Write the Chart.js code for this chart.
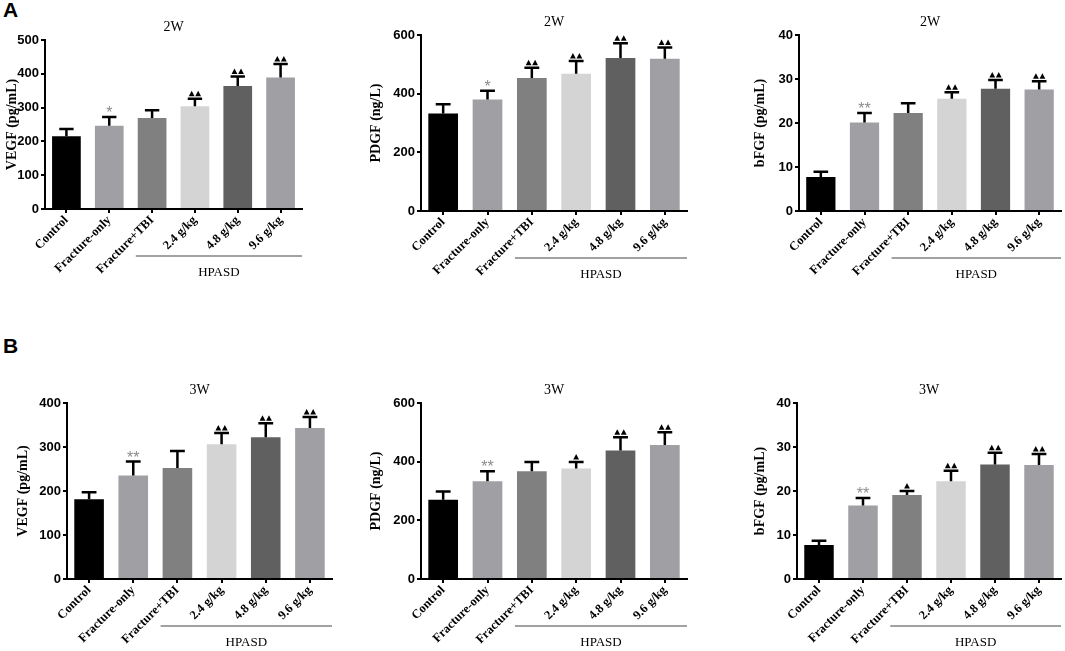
<!DOCTYPE html>
<html>
<head>
<meta charset="utf-8">
<script src="https://cdn.jsdelivr.net/npm/chart.js@4.4.0/dist/chart.umd.min.js"></script>
<style>
  body { margin: 0; background: #fff; }
  #fig { position: relative; width: 1065px; height: 651px; overflow: hidden; }
  canvas { position: absolute; }
  .tag { position: absolute; font: bold 21px "Liberation Sans", Arial, sans-serif; color: #000; }
</style>
</head>
<body>
<div id="fig">
  <div class="tag" style="left:3px;top:-2px">A</div>
  <div class="tag" style="left:3px;top:334px">B</div>
</div>
<script>
// groups and bar fills
const groups = ['Control', 'Fracture-only', 'Fracture+TBI', '2.4 g/kg', '4.8 g/kg', '9.6 g/kg'];
const barColors = ['#000000', '#a0a0a4', '#808080', '#d4d4d4', '#606060', '#a0a0a4'];

// 2 weeks
const vegf2w = [215, 246, 269, 304, 364, 389];
const vegf2wErr = [22, 26, 23, 22, 28, 40];
const vegf2wMarks = ['', '*', '', '▲▲', '▲▲', '▲▲'];
const pdgf2w = [332, 380, 453, 468, 522, 519];
const pdgf2wErr = [32, 30, 35, 43, 50, 38];
const pdgf2wMarks = ['', '*', '▲▲', '▲▲', '▲▲', '▲▲'];
const bfgf2w = [7.7, 20.1, 22.3, 25.5, 27.8, 27.6];
const bfgf2wErr = [1.2, 2.2, 2.2, 1.5, 2.0, 1.9];
const bfgf2wMarks = ['', '**', '', '▲▲', '▲▲', '▲▲'];

// 3 weeks
const vegf3w = [181, 235, 252, 306, 322, 343];
const vegf3wErr = [16, 32, 39, 26, 32, 25];
const vegf3wMarks = ['', '**', '', '▲▲', '▲▲', '▲▲'];
const pdgf3w = [270, 333, 367, 377, 438, 457];
const pdgf3wErr = [28, 34, 32, 22, 45, 43];
const pdgf3wMarks = ['', '**', '', '▲', '▲▲', '▲▲'];
const bfgf3w = [7.7, 16.7, 19.1, 22.2, 26.0, 25.9];
const bfgf3wErr = [1.0, 1.7, 0.9, 2.4, 2.7, 2.5];
const bfgf3wMarks = ['', '**', '▲', '▲▲', '▲▲', '▲▲'];

// box: canvas left, axis x, plot top, plot right, plot bottom, room below axis
const panels = [
  { week: '2W', yTitle: 'VEGF (pg/mL)', max: 500, step: 100, vals: vegf2w, err: vegf2wErr, marks: vegf2wMarks, box: [0, 45, 40, 302, 209, 75] },
  { week: '2W', yTitle: 'PDGF (ng/L)', max: 600, step: 200, vals: pdgf2w, err: pdgf2wErr, marks: pdgf2wMarks, box: [364, 421, 35, 687, 211, 75] },
  { week: '2W', yTitle: 'bFGF (pg/mL)', max: 40, step: 10, vals: bfgf2w, err: bfgf2wErr, marks: bfgf2wMarks, box: [748, 799, 35, 1061, 211, 75] },
  { week: '3W', yTitle: 'VEGF (pg/mL)', max: 400, step: 100, vals: vegf3w, err: vegf3wErr, marks: vegf3wMarks, box: [11, 67, 403, 332, 579, 72] },
  { week: '3W', yTitle: 'PDGF (ng/L)', max: 600, step: 200, vals: pdgf3w, err: pdgf3wErr, marks: pdgf3wMarks, box: [364, 421, 403, 687, 579, 72] },
  { week: '3W', yTitle: 'bFGF (pg/mL)', max: 40, step: 10, vals: bfgf3w, err: bfgf3wErr, marks: bfgf3wMarks, box: [748, 797, 403, 1061, 579, 72] }
];

const fig = document.getElementById('fig');

panels.forEach(function (p) {
  const [cl, ax, top, right, bottom, hx] = p.box;
  const ct = top - 30;
  const w = right + 4 - cl;
  const h = bottom + hx - ct;
  const cv = document.createElement('canvas');
  cv.width = w;
  cv.height = h;
  cv.style.left = cl + 'px';
  cv.style.top = ct + 'px';
  cv.style.width = w + 'px';
  cv.style.height = h + 'px';
  fig.appendChild(cv);

  // error bars, significance marks, week title and the HPASD bracket
  const extras = {
    id: 'extras',
    afterDatasetsDraw(chart) {
      const ctx = chart.ctx;
      const ys = chart.scales.y;
      const xs = chart.scales.x;
      const area = chart.chartArea;
      const bars = chart.getDatasetMeta(0).data;
      ctx.save();
      bars.forEach(function (b, i) {
        const yt = ys.getPixelForValue(p.vals[i] + p.err[i]);
        const yb = ys.getPixelForValue(p.vals[i]);
        const cw = b.width * 0.25;
        ctx.strokeStyle = '#000';
        ctx.lineWidth = 2.5;
        ctx.beginPath();
        ctx.moveTo(b.x, yb);
        ctx.lineTo(b.x, yt);
        ctx.moveTo(b.x - cw, yt);
        ctx.lineTo(b.x + cw, yt);
        ctx.stroke();

        const m = p.marks[i];
        if (m.indexOf('*') >= 0) {
          ctx.fillStyle = '#8c8c8c';
          ctx.font = '16px "Liberation Sans", Arial, sans-serif';
          ctx.textAlign = 'center';
          ctx.textBaseline = 'alphabetic';
          ctx.fillText(m, b.x, yt + 1);
        } else if (m) {
          const n = m.length;
          ctx.fillStyle = '#000';
          for (let j = 0; j < n; j++) {
            const cx = b.x + (j - (n - 1) / 2) * 6.5;
            ctx.beginPath();
            ctx.moveTo(cx - 2.9, yt - 2.5);
            ctx.lineTo(cx + 2.9, yt - 2.5);
            ctx.lineTo(cx, yt - 8);
            ctx.closePath();
            ctx.fill();
          }
        }
      });

      ctx.fillStyle = '#000';
      ctx.font = '14px "Liberation Serif", "Times New Roman", serif';
      ctx.textAlign = 'center';
      ctx.textBaseline = 'middle';
      ctx.fillText(p.week, (area.left + area.right) / 2, area.top - 13);

      const step = xs.getPixelForValue(1) - xs.getPixelForValue(0);
      const x0 = xs.getPixelForValue(2) - 0.38 * step;
      const yl = area.bottom + 47;
      ctx.strokeStyle = '#444';
      ctx.lineWidth = 1;
      ctx.beginPath();
      ctx.moveTo(x0, yl);
      ctx.lineTo(area.right, yl);
      ctx.stroke();
      ctx.font = '13px "Liberation Serif", "Times New Roman", serif';
      ctx.fillText('HPASD', (x0 + area.right) / 2, area.bottom + 64);
      ctx.restore();
    }
  };

  new Chart(cv, {
    type: 'bar',
    data: {
      labels: groups,
      datasets: [{
        data: p.vals,
        backgroundColor: barColors,
        borderWidth: 0,
        barPercentage: 0.67,
        categoryPercentage: 1
      }]
    },
    options: {
      responsive: false,
      animation: false,
      events: [],
      layout: { padding: { left: 0, top: 30, right: 4, bottom: 0 } },
      plugins: { legend: { display: false }, tooltip: { enabled: false } },
      scales: {
        x: {
          offset: true,
          afterFit: function (s) { s.height = hx; },
          grid: { offset: false, drawOnChartArea: false, tickLength: 4, color: '#000', lineWidth: 2 },
          border: { color: '#000', width: 2 },
          ticks: {
            autoSkip: false,
            maxRotation: 45,
            minRotation: 45,
            padding: 0,
            color: '#000',
            font: { family: '"Liberation Serif", "Times New Roman", serif', size: 12.5, weight: 'bold' }
          }
        },
        y: {
          min: 0,
          max: p.max,
          afterFit: function (s) { s.width = ax - cl; },
          grid: { drawOnChartArea: false, tickLength: 4, color: '#000', lineWidth: 2 },
          border: { color: '#000', width: 2 },
          ticks: {
            stepSize: p.step,
            padding: 2,
            color: '#000',
            font: { family: '"Liberation Sans", Arial, sans-serif', size: 13, weight: 'bold' }
          },
          title: {
            display: true,
            text: p.yTitle,
            color: '#000',
            padding: { top: 4, bottom: 0 },
            font: { family: '"Liberation Serif", "Times New Roman", serif', size: 14, weight: 'bold' }
          }
        }
      }
    },
    plugins: [extras]
  });
});
</script>
</body>
</html>
